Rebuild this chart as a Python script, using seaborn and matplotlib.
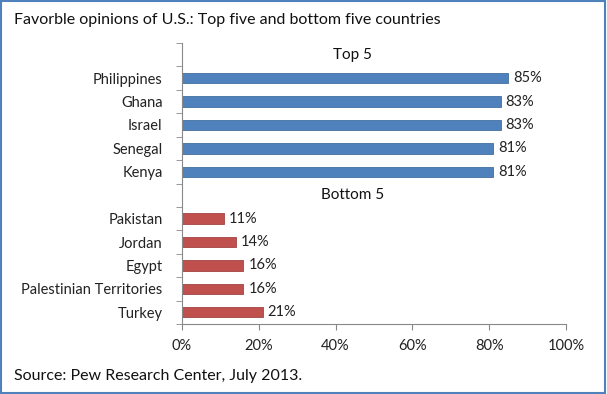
import pandas as pd
import matplotlib.pyplot as plt
import seaborn as sns
from matplotlib.patches import Rectangle

# Data
top_countries = ["Philippines", "Ghana", "Israel", "Senegal", "Kenya"]
top_values = [85, 83, 83, 81, 81]
bottom_countries = ["Pakistan", "Jordan", "Egypt", "Palestinian Territories", "Turkey"]
bottom_values = [11, 14, 16, 16, 21]
group_headers = ["Top 5", "Bottom 5"]
x_ticks = [0, 20, 40, 60, 80, 100]

blue = "#4F81BD"
red = "#C0504D"

df = pd.DataFrame({
    "country": top_countries + bottom_countries,
    "value": top_values + bottom_values,
    "group": ["Top"] * len(top_countries) + ["Bottom"] * len(bottom_countries),
})

# header rows get their own empty slot on the axis
order = ["_h1"] + top_countries + ["_h2"] + bottom_countries

sns.set_style("white")
plt.rcParams["font.family"] = ["Lato", "DejaVu Sans"]

fig = plt.figure(figsize=(6.07, 3.94), dpi=100)
ax = fig.add_axes([182 / 607, 1 - 324 / 394, 384 / 607, 281 / 394])

sns.barplot(data=df, y="country", x="value", hue="group", order=order,
            palette={"Top": blue, "Bottom": red}, dodge=False, width=0.44,
            saturation=1, orient="h", ax=ax, legend=False)
for patch in ax.patches:
    fc = patch.get_facecolor()
    patch.set_edgecolor([c * 0.85 for c in fc[:3]])
    patch.set_linewidth(0.6)

# value labels
for i, name in enumerate(order):
    if name.startswith("_h"):
        continue
    v = df.loc[df["country"] == name, "value"].iloc[0]
    ax.text(v + 1.3, i, f"{v}%", va="center", ha="left", fontsize=10.5, color="#222222")

# group headers
ax.text(44.5, 0, group_headers[0], ha="center", va="center", fontsize=11, color="#111111")
ax.text(44.5, 6, group_headers[1], ha="center", va="center", fontsize=11, color="#111111")

ax.set_xlim(0, 100)
ax.set_ylim(len(order) - 0.5, -0.5)
ax.set_xticks(x_ticks)
ax.set_xticklabels([f"{t}%" for t in x_ticks], fontsize=10.5, color="#222222")
ax.set_yticks(range(len(order)))
ax.set_yticklabels(["" if n.startswith("_h") else n for n in order], fontsize=10.5, color="#222222")
ax.tick_params(axis="y", length=0, pad=14)
ax.set_yticks([i + 0.5 for i in range(-1, len(order))], minor=True)
ax.tick_params(axis="y", which="minor", length=4, color="#888888", direction="out", left=True)
ax.tick_params(axis="x", length=4, color="#888888", direction="out", bottom=True, pad=7)
ax.set_xlabel("")
ax.set_ylabel("")
for side in ["top", "right"]:
    ax.spines[side].set_visible(False)
for side in ["left", "bottom"]:
    ax.spines[side].set_color("#888888")
    ax.spines[side].set_linewidth(0.8)

fig.text(14 / 607, 1 - 20 / 394, "Favorble opinions of U.S.: Top five and bottom five countries",
         ha="left", va="center", fontsize=11.5, color="#111111")
fig.text(14 / 607, 1 - 376 / 394, "Source: Pew Research Center, July 2013.",
         ha="left", va="center", fontsize=11.5, color="#111111")

fig.patches.append(Rectangle((0.002, 0.003), 0.995, 0.994, transform=fig.transFigure,
                             fill=False, edgecolor="#4F81BD", linewidth=1.5))

fig.savefig("out.png", dpi=100)
